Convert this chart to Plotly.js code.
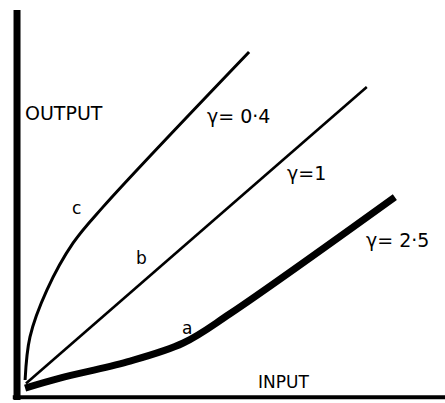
<!DOCTYPE html>
<html>
<head>
<meta charset="utf-8">
<script src="https://cdn.plot.ly/plotly-3.0.1.min.js"></script>
<style>html,body{margin:0;padding:0;background:#fff;}#chart{width:445px;height:403px;}</style>
</head>
<body>
<div id="chart"></div>
<script>
// Curve c: gamma = 0.4
const cInput  = [1.2, 2.35, 6.35, 12.5, 19.5, 53.9];
const cOutput = [3.9, 15.1, 27.3, 39.5, 48.8, 89.1];
// Curve b: gamma = 1
const bInput  = [1.4, 81.6];
const bOutput = [3.0, 80.0];
// Curve a: gamma = 2.5
const aInput  = [1.2, 9.4, 25.2, 38.4, 49.4, 88.2];
const aOutput = [1.8, 4.4, 8.6, 13.5, 21.1, 51.4];
// Labels
const curveLetters = ['c', 'b', 'a'];
const gammaLabels = ['γ= 0·4', 'γ=1', 'γ= 2·5'];
const axisLabels = ['INPUT', 'OUTPUT'];

const traces = [
  {x: cInput, y: cOutput, mode: 'lines', line: {color: '#000', width: 3, shape: 'spline', smoothing: 1}, hoverinfo: 'skip'},
  {x: bInput, y: bOutput, mode: 'lines', line: {color: '#000', width: 2.6}, hoverinfo: 'skip'},
  {x: aInput, y: aOutput, mode: 'lines', line: {color: '#000', width: 7, shape: 'spline', smoothing: 1}, hoverinfo: 'skip'}
];

const font = {family: 'DejaVu Sans', color: '#000'};
const ann = (text, x, y, size, xanchor, yanchor) => ({
  text: text, x: x, y: y, xref: 'x', yref: 'y', showarrow: false,
  xanchor: xanchor || 'center', yanchor: yanchor || 'middle',
  font: Object.assign({}, font, {size: size})
});

const layout = {
  width: 445, height: 403,
  margin: {l: 20, r: 0, t: 10, b: 8, pad: 0},
  paper_bgcolor: '#fff', plot_bgcolor: '#fff',
  showlegend: false,
  xaxis: {range: [0, 100], showgrid: false, zeroline: false, showticklabels: false, ticks: '',
          showline: false, fixedrange: true, automargin: false},
  yaxis: {range: [0, 100], showgrid: false, zeroline: false, showticklabels: false, ticks: '',
          showline: false, fixedrange: true, automargin: false},
  shapes: [
    // vertical (output) axis
    {type: 'line', xref: 'paper', yref: 'paper', x0: -0.007, x1: -0.007, y0: -0.013, y1: 1.0,
     line: {color: '#000', width: 7}},
    // horizontal (input) axis
    {type: 'line', xref: 'paper', yref: 'paper', x0: -0.017, x1: 1.0, y0: -0.006, y1: -0.006,
     line: {color: '#000', width: 4}}
  ],
  annotations: [
    ann(axisLabels[1], 0.7, 73.2, 19, 'left'),
    ann(axisLabels[0], 55.5, 0.2, 17, 'left', 'bottom'),
    ann(gammaLabels[0], 43.5, 72.5, 19, 'left'),
    ann(gammaLabels[1], 62.4, 57.7, 19, 'left'),
    ann(gammaLabels[2], 81.0, 40.3, 19, 'left'),
    ann(curveLetters[0], 13.4, 48.6, 17),
    ann(curveLetters[1], 28.7, 35.6, 17),
    ann(curveLetters[2], 39.3, 17.4, 17)
  ]
};

Plotly.newPlot('chart', traces, layout, {staticPlot: true, displayModeBar: false});
</script>
</body>
</html>
